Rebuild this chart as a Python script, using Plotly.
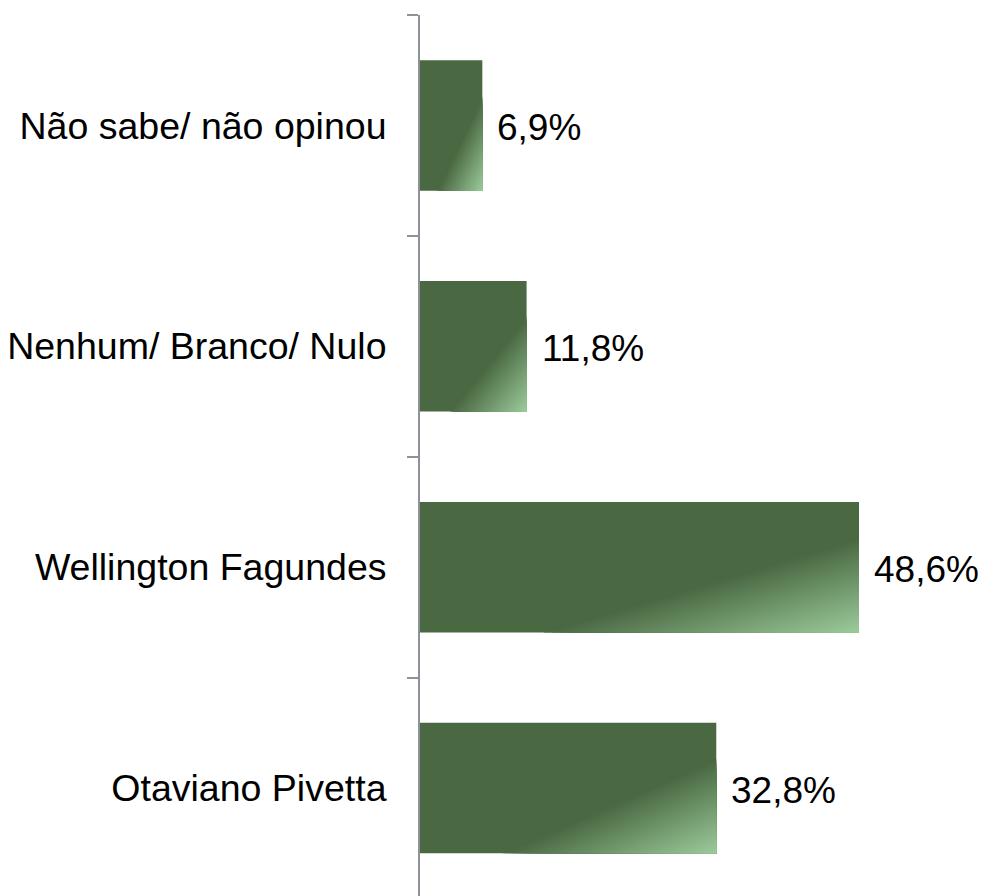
import plotly.graph_objects as go

# ---- data (bottom to top) ----
categories = ["Otaviano Pivetta", "Wellington Fagundes", "Nenhum/ Branco/ Nulo", "Não sabe/ não opinou"]
values = [32.8, 48.6, 11.8, 6.9]
value_labels = ["32,8%", "48,6%", "11,8%", "6,9%"]

# ---- style ----
DARK = (74, 104, 66)
LIGHT = (155, 203, 155)
BAR_FRAC = 0.591
N_STEPS = 40
S_START = 1.28  # gradient starts where (u+v) = S_START in bar-relative coords
FONT = "Liberation Sans, Arial, sans-serif"
FONT_SIZE = 37.5
VALUE_FONT_SIZE = 37
AXIS_GRAY = "#8d9299"
Y_RANGE = [-0.489, 3.5]
X_RANGE = [0, 62.66]


def rgb(c):
    return "rgb(%d,%d,%d)" % tuple(int(round(v)) for v in c)


def mix(t):
    return tuple(DARK[j] + (LIGHT[j] - DARK[j]) * t for j in range(3))


fig = go.Figure()
fig.add_trace(go.Bar(
    y=categories, x=values, orientation="h", width=BAR_FRAC,
    marker=dict(color=rgb(DARK), line=dict(width=0)),
    hoverinfo="skip", showlegend=False,
))

# diagonal gradient overlay (stacked triangles), computed from each bar's value
for k in range(N_STEPS):
    sa = S_START + (2 - S_START) * k / N_STEPS
    col = rgb(mix((k + 0.5) / N_STEPS))
    xs, ys = [], []
    for i, v in enumerate(values):
        top = i + BAR_FRAC / 2
        pts = [(sa - 1, 1), (1, 1), (1, sa - 1), (sa - 1, 1)]
        for (u, w) in pts:
            xs.append(u * v)
            ys.append(top - w * BAR_FRAC)
        xs.append(None)
        ys.append(None)
    fig.add_trace(go.Scatter(
        x=xs, y=ys, yaxis="y2", mode="lines", fill="toself",
        fillcolor=col, line=dict(color=col, width=0),
        hoverinfo="skip", showlegend=False,
    ))

for c, v, lab in zip(categories, values, value_labels):
    fig.add_annotation(
        x=v, y=c, text=lab, showarrow=False, xanchor="left", yanchor="middle",
        xshift=13, yshift=-2, font=dict(family=FONT, size=VALUE_FONT_SIZE, color="black"),
    )

fig.update_layout(
    width=978, height=888,
    margin=dict(l=412, r=0, t=7, b=0, autoexpand=False),
    plot_bgcolor="white", paper_bgcolor="white",
    showlegend=False,
    xaxis=dict(range=X_RANGE, visible=False, fixedrange=True),
    yaxis=dict(
        type="category", categoryorder="array", categoryarray=categories,
        range=Y_RANGE, tickson="boundaries", ticks="outside", ticklen=11,
        tickcolor=AXIS_GRAY, tickwidth=2, showline=True, linecolor=AXIS_GRAY,
        linewidth=2, showgrid=False, zeroline=False, automargin=False,
        tickfont=dict(family=FONT, size=FONT_SIZE, color="black"),
        ticklabelstandoff=24,
    ),
    yaxis2=dict(overlaying="y", range=Y_RANGE, visible=False, fixedrange=True),
)

fig.write_html("out.html")
